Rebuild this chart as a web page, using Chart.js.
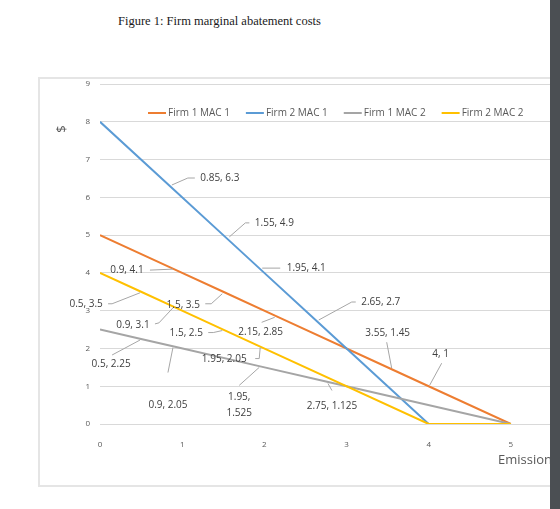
<!DOCTYPE html>
<html>
<head>
<meta charset="utf-8">
<script src="https://cdn.jsdelivr.net/npm/chart.js@4"></script>
<style>
html, body { margin: 0; padding: 0; width: 560px; height: 509px; overflow: hidden; background: #fff; }
#caption { position: absolute; left: 118px; top: 14px; font: 12.5px "Liberation Serif", serif; color: #1a1a1a; white-space: nowrap; }
#frame { position: absolute; left: 38px; top: 77px; width: 620px; height: 406px; border: 2px solid #e5e5e5; }
#frame canvas { display: block; }
#scrollbar { position: absolute; left: 550px; top: 0; width: 10px; height: 509px; background: #4b4f53; }
</style>
</head>
<body>
<div id="caption">Figure 1: Firm marginal abatement costs</div>
<div id="frame"><canvas id="mac" width="620" height="406"></canvas></div>
<div id="scrollbar"></div>
<script>
// series names
const seriesNames = ['Firm 1 MAC 1', 'Firm 2 MAC 1', 'Firm 1 MAC 2', 'Firm 2 MAC 2'];

// values (emissions, $)
const firm1Mac1X = [0, 0.9, 1.5, 2.15, 3.55, 4, 5];
const firm1Mac1Y = [5, 4.1, 3.5, 2.85, 1.45, 1, 0];
const firm2Mac1X = [0, 0.85, 1.55, 1.95, 2.65, 4];
const firm2Mac1Y = [8, 6.3, 4.9, 4.1, 2.7, 0];
const firm1Mac2X = [0, 0.5, 0.9, 1.95, 2.75, 5];
const firm1Mac2Y = [2.5, 2.25, 2.05, 1.525, 1.125, 0];
const firm2Mac2X = [0, 0.5, 0.9, 1.5, 1.95, 4, 5];
const firm2Mac2Y = [4, 3.5, 3.1, 2.5, 2.05, 0, 0];

// axis ranges / ticks
const xRange = [0, 6];
const yRange = [0, 9];
const tickStep = 1;

// colours (Office palette)
const seriesColors = ['#ED7D31', '#5B9BD5', '#A5A5A5', '#FFC000'];

// label placement: t = text centre offset from point, l = leader path (px, relative to point)
const firm1Mac1Labels = [null,
    { t: [-47, 1], l: [[-1, 0], [-24, 1]] },
    { t: [-40, 13], l: [[-1, 2], [-12, 12], [-18, 12]] },
    { t: [-16, 16], l: [[-2, 1], [-15, 6]] },
    { t: [-4, -36], l: [[0, -1], [-5, -27]] },
    { t: [12, -32], l: [[1, -1], [13, -23]] },
    null];
const firm2Mac1Labels = [null,
    { t: [50, -8], l: [[2, -1], [18, -8], [25, -8]] },
    { t: [47, -16], l: [[2, -2], [18, -16], [22, -16]] },
    { t: [46, -1], l: [[2, -1], [20, -1]] },
    { t: [63, -20], l: [[1, -2], [34, -20], [38, -20]] },
    null];
const firm1Mac2Labels = [null,
    { t: [-30, 25], l: [[-1, 1], [-29, 16]] },
    { t: [-6, 59], l: [[-1, 1], [-6, 26]] },
    { t: [-21, 39], l: [[-1, 1], [-21, 19]], wrap: true },
    { t: [6, 25], l: [[2, 2], [6, 9]] },
    null];
const firm2Mac2Labels = [null,
    { t: [-55, 12], l: [[-1, 1], [-29, 12], [-33, 12]] },
    { t: [-41, 18], l: [[-1, 1], [-15, 16], [-19, 17]] },
    { t: [-37, 4], l: [[-1, 1], [-10, 3], [-15, 3]] },
    { t: [-36, 13], l: [[0, 1], [-1, 12], [-5, 12]] },
    null, null];

const xs = [firm1Mac1X, firm2Mac1X, firm1Mac2X, firm2Mac2X];
const ys = [firm1Mac1Y, firm2Mac1Y, firm1Mac2Y, firm2Mac2Y];
const labelSets = [firm1Mac1Labels, firm2Mac1Labels, firm1Mac2Labels, firm2Mac2Labels];

const FONT = '"Open Sans", "Noto Sans", sans-serif';

// data labels with leader lines, like Excel's
const dataLabels = {
    id: 'dataLabels',
    afterDatasetsDraw(chart) {
        const ctx = chart.ctx;
        const sx = chart.scales.x, sy = chart.scales.y;
        ctx.save();
        labelSets.forEach((set, i) => {
            set.forEach((lab, j) => {
                if (!lab) return;
                const px = sx.getPixelForValue(xs[i][j]);
                const py = sy.getPixelForValue(ys[i][j]);
                ctx.strokeStyle = '#a6a6a6';
                ctx.lineWidth = 1;
                ctx.beginPath();
                lab.l.forEach((p, k) => {
                    if (k === 0) ctx.moveTo(px + p[0], py + p[1]);
                    else ctx.lineTo(px + p[0], py + p[1]);
                });
                ctx.stroke();
                ctx.fillStyle = '#404040';
                ctx.font = '10px ' + FONT;
                ctx.textAlign = 'center';
                ctx.textBaseline = 'middle';
                const cx = px + lab.t[0], cy = py + lab.t[1];
                if (lab.wrap) {
                    ctx.fillText(xs[i][j] + ',', cx, cy - 8);
                    ctx.fillText(String(ys[i][j]), cx, cy + 8);
                } else {
                    ctx.fillText(xs[i][j] + ', ' + ys[i][j], cx, cy);
                }
            });
        });
        ctx.restore();
    }
};

// legend sits inside the plot area, so draw it by hand
const insideLegend = {
    id: 'insideLegend',
    afterDraw(chart) {
        const ctx = chart.ctx;
        ctx.save();
        ctx.font = '10px ' + FONT;
        ctx.textBaseline = 'middle';
        ctx.textAlign = 'left';
        let x = 108;
        const y = 34;
        chart.data.datasets.forEach(ds => {
            ctx.strokeStyle = ds.borderColor;
            ctx.lineWidth = 2;
            ctx.beginPath();
            ctx.moveTo(x, y);
            ctx.lineTo(x + 18, y);
            ctx.stroke();
            ctx.fillStyle = '#595959';
            ctx.fillText(ds.label, x + 20, y);
            x += 20 + ctx.measureText(ds.label).width + 16;
        });
        // axis titles
        ctx.font = '13px ' + FONT;
        ctx.fillText('Emissions', 458, 381);
        ctx.translate(22, 50);
        ctx.rotate(-Math.PI / 2);
        ctx.textAlign = 'center';
        ctx.fillText('$', 0, 0);
        ctx.restore();
    }
};

const datasets = seriesNames.map((name, i) => ({
    label: name,
    data: xs[i].map((x, j) => ({ x: x, y: ys[i][j] })),
    borderColor: seriesColors[i],
    backgroundColor: seriesColors[i],
    borderWidth: 2,
    pointRadius: 0,
    showLine: true,
    tension: 0,
    order: 4 - i
}));

new Chart(document.getElementById('mac'), {
    type: 'scatter',
    data: { datasets: datasets },
    options: {
        responsive: false,
        animation: false,
        devicePixelRatio: 1,
        layout: { padding: { left: 0, top: 5, right: 67, bottom: 0 } },
        plugins: {
            legend: { display: false },
            tooltip: { enabled: false }
        },
        scales: {
            x: {
                type: 'linear',
                min: xRange[0],
                max: xRange[1],
                ticks: { stepSize: tickStep, padding: 8, color: '#595959', font: { family: FONT, size: 8 } },
                grid: { display: false },
                border: { display: false },
                afterFit: (scale) => { scale.height = 61; }
            },
            y: {
                type: 'linear',
                min: yRange[0],
                max: yRange[1],
                ticks: { stepSize: tickStep, padding: 10, color: '#595959', font: { family: FONT, size: 8 } },
                grid: { color: '#d9d9d9', lineWidth: 1, drawTicks: false },
                border: { display: false },
                afterFit: (scale) => {
                    scale.width = 60;
                    // tick padding should not push the plot down
                    scale.paddingTop = 4;
                    scale.paddingBottom = 4;
                }
            }
        }
    },
    plugins: [dataLabels, insideLegend]
});
</script>
</body>
</html>
